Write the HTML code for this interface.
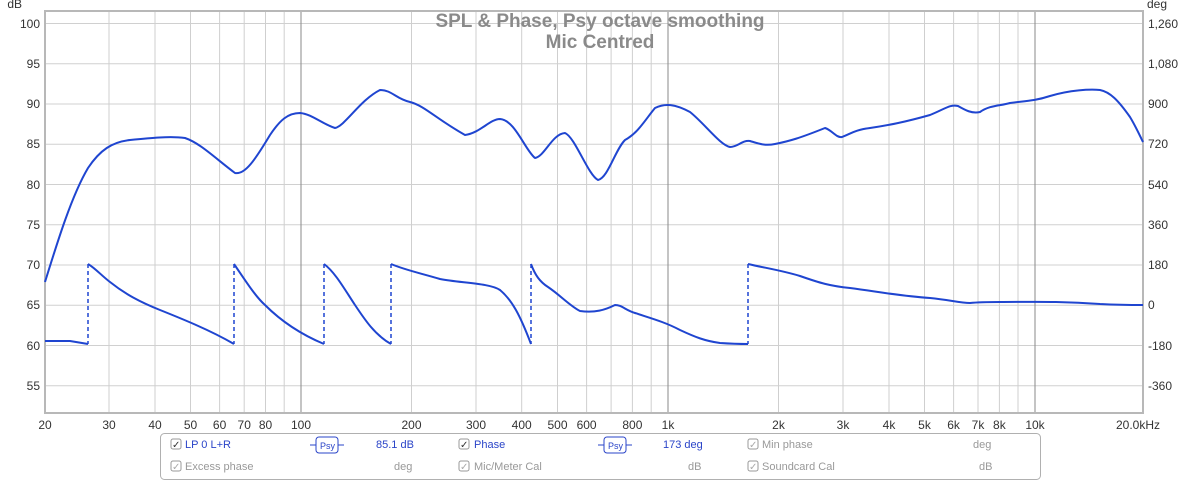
<!DOCTYPE html>
<html><head><style>
body{margin:0;background:#fff;width:1200px;height:481px;overflow:hidden;font-family:"Liberation Sans",sans-serif}
</style></head><body>
<svg width="1200" height="481" xmlns="http://www.w3.org/2000/svg" font-family="Liberation Sans, sans-serif">
<rect x="0" y="0" width="1200" height="481" fill="#fff"/>
<g stroke="#d0d0d0" stroke-width="1">
<line x1="45" x2="1143" y1="23.5" y2="23.5"/><line x1="45" x2="1143" y1="63.8" y2="63.8"/>
<line x1="45" x2="1143" y1="104" y2="104"/><line x1="45" x2="1143" y1="144.2" y2="144.2"/>
<line x1="45" x2="1143" y1="184.5" y2="184.5"/><line x1="45" x2="1143" y1="224.7" y2="224.7"/>
<line x1="45" x2="1143" y1="265" y2="265"/><line x1="45" x2="1143" y1="305.2" y2="305.2"/>
<line x1="45" x2="1143" y1="345.5" y2="345.5"/><line x1="45" x2="1143" y1="385.7" y2="385.7"/>
</g>
<g stroke="#cfcfcf" stroke-width="1">
<line x1="109" x2="109" y1="11" y2="413"/><line x1="155" x2="155" y1="11" y2="413"/><line x1="190.5" x2="190.5" y1="11" y2="413"/><line x1="219.6" x2="219.6" y1="11" y2="413"/><line x1="244.2" x2="244.2" y1="11" y2="413"/><line x1="265.5" x2="265.5" y1="11" y2="413"/><line x1="284.2" x2="284.2" y1="11" y2="413"/>
<line x1="411.5" x2="411.5" y1="11" y2="413"/><line x1="476" x2="476" y1="11" y2="413"/><line x1="521.7" x2="521.7" y1="11" y2="413"/><line x1="557.5" x2="557.5" y1="11" y2="413"/><line x1="586.6" x2="586.6" y1="11" y2="413"/><line x1="611.1" x2="611.1" y1="11" y2="413"/><line x1="632.4" x2="632.4" y1="11" y2="413"/><line x1="651.2" x2="651.2" y1="11" y2="413"/>
<line x1="778.5" x2="778.5" y1="11" y2="413"/><line x1="843" x2="843" y1="11" y2="413"/><line x1="889" x2="889" y1="11" y2="413"/><line x1="924.5" x2="924.5" y1="11" y2="413"/><line x1="953.6" x2="953.6" y1="11" y2="413"/><line x1="978" x2="978" y1="11" y2="413"/><line x1="999.4" x2="999.4" y1="11" y2="413"/><line x1="1018" x2="1018" y1="11" y2="413"/>
</g>
<g stroke="#8a8a8a" stroke-width="1">
<line x1="301" x2="301" y1="11" y2="413"/><line x1="668" x2="668" y1="11" y2="413"/><line x1="1035" x2="1035" y1="11" y2="413"/>
</g>
<rect x="45" y="11" width="1098" height="402" fill="none" stroke="#b8b8b8" stroke-width="2"/>
<text x="600" y="27" text-anchor="middle" font-size="19" font-weight="bold" fill="#8a8a8a">SPL &amp; Phase, Psy octave smoothing</text>
<text x="600" y="48" text-anchor="middle" font-size="19" font-weight="bold" fill="#8a8a8a">Mic Centred</text>
<g font-size="12" fill="#333" text-anchor="end">
<text x="22" y="8">dB</text>
<text x="40" y="28">100</text><text x="40" y="68">95</text><text x="40" y="108">90</text><text x="40" y="148">85</text><text x="40" y="189">80</text><text x="40" y="229">75</text><text x="40" y="269">70</text><text x="40" y="309">65</text><text x="40" y="350">60</text><text x="40" y="390">55</text>
</g>
<g font-size="12" fill="#333">
<text x="1147" y="8">deg</text>
<text x="1148" y="28">1,260</text><text x="1148" y="68">1,080</text><text x="1148" y="108">900</text><text x="1148" y="148">720</text><text x="1148" y="189">540</text><text x="1148" y="229">360</text><text x="1148" y="269">180</text><text x="1148" y="309">0</text><text x="1148" y="350">-180</text><text x="1148" y="390">-360</text>
</g>
<g font-size="12" fill="#333" text-anchor="middle">
<text x="45" y="429">20</text><text x="109" y="429">30</text><text x="155" y="429">40</text><text x="190.5" y="429">50</text><text x="219.6" y="429">60</text><text x="244.2" y="429">70</text><text x="265.5" y="429">80</text><text x="301" y="429">100</text><text x="411.5" y="429">200</text><text x="476" y="429">300</text><text x="521.7" y="429">400</text><text x="557.5" y="429">500</text><text x="586.6" y="429">600</text><text x="632.4" y="429">800</text><text x="668" y="429">1k</text><text x="778.5" y="429">2k</text><text x="843" y="429">3k</text><text x="889" y="429">4k</text><text x="924.5" y="429">5k</text><text x="953.6" y="429">6k</text><text x="978" y="429">7k</text><text x="999.4" y="429">8k</text><text x="1035" y="429">10k</text><text x="1138" y="429">20.0kHz</text>
</g>
<path fill="none" stroke="#1f45d0" stroke-width="2" stroke-linejoin="round" d="M45,282 C58,240 72,195 88,168 C100,150 112,142 130,140 C150,138 170,136 185,138 C200,143 215,158 235,173 C245,175 255,160 270,135 C280,120 288,113 300,113 C312,114 322,124 335,128 C345,126 360,100 380,90 C392,90 396,99 410,102 C425,106 435,118 465,135 C480,133 490,119 500,119 C515,120 525,150 535,158 C545,156 552,134 565,133 C575,137 588,175 598,180 C608,178 615,150 625,140 C638,133 645,120 655,108 C665,103 675,104 690,112 C705,124 720,145 730,147 C738,147 742,140 750,141 C760,144 765,146 775,144 C790,141 800,138 825,128 C832,130 836,138 842,137 C852,133 855,130 870,128 C890,125 905,122 930,115 C945,109 950,104 958,106 C965,110 972,114 980,112 C990,105 1000,106 1010,103 C1025,101 1035,101 1050,96 C1070,90 1090,89 1100,90 C1110,92 1118,100 1130,117 C1136,127 1140,136 1143,142"/>
<path fill="none" stroke="#1f45d0" stroke-width="2" stroke-linejoin="round" d="M45,341 L70,341 L88,344 M88,264 C95,268 102,276 110,282 C125,294 140,302 160,310 C180,318 210,330 234,344 M234,264 C245,280 255,296 265,305 C280,320 300,334 324,344 M324,264 C335,272 345,290 355,305 C365,320 375,335 391,344 M391,264 C405,270 420,273 440,279 C460,283 490,283 500,290 C512,300 520,315 531,344 M531,264 C535,275 540,282 548,287 C560,295 570,306 580,311 C595,313 605,310 615,305 C622,305 625,310 635,313 C650,318 665,322 680,330 C695,337 705,341 720,343 C735,344 740,344 748,344 M748,264 C765,268 780,270 800,276 C820,283 830,286 850,288 C880,292 900,296 930,298 C950,300 960,303 970,303 C980,302 990,302 1000,302 C1030,302 1060,301 1100,304 C1120,305 1135,305 1143,305"/>
<g stroke="#1f45d0" stroke-width="1.5" stroke-dasharray="4,3">
<line x1="88" x2="88" y1="264" y2="344"/><line x1="234" x2="234" y1="264" y2="344"/><line x1="324" x2="324" y1="264" y2="344"/><line x1="391" x2="391" y1="264" y2="344"/><line x1="531" x2="531" y1="264" y2="344"/><line x1="748" x2="748" y1="264" y2="344"/>
</g>
<rect x="160.5" y="433.5" width="880" height="46" rx="4" fill="#fff" stroke="#b0b0b0"/>
<g font-size="11">
<g fill="none" stroke="#999"><rect x="171" y="439" width="10" height="10" rx="2"/><rect x="459" y="439" width="10" height="10" rx="2"/><rect x="748" y="439" width="10" height="10" rx="2"/><rect x="171" y="461" width="10" height="10" rx="2"/><rect x="459" y="461" width="10" height="10" rx="2"/><rect x="748" y="461" width="10" height="10" rx="2"/></g>
<g fill="#333" font-size="10"><text x="172" y="448">✓</text><text x="460" y="448">✓</text></g>
<g fill="#aaa" font-size="10"><text x="749" y="448">✓</text><text x="172" y="470">✓</text><text x="460" y="470">✓</text><text x="749" y="470">✓</text></g>
<g fill="#2a44c8"><text x="185" y="448">LP 0 L+R</text><text x="376" y="448">85.1 dB</text><text x="474" y="448">Phase</text><text x="663" y="448">173 deg</text></g>
<g fill="#999"><text x="762" y="448">Min phase</text><text x="973" y="448">deg</text><text x="185" y="470">Excess phase</text><text x="394" y="470">deg</text><text x="474" y="470">Mic/Meter Cal</text><text x="688" y="470">dB</text><text x="762" y="470">Soundcard Cal</text><text x="979" y="470">dB</text></g>
<g stroke="#2a44c8" fill="#fff"><line x1="310" x2="344" y1="445" y2="445"/><rect x="316" y="437" width="22" height="16" rx="3"/><line x1="598" x2="632" y1="445" y2="445"/><rect x="604" y="437" width="22" height="16" rx="3"/></g>
<g fill="#2a44c8" font-size="9"><text x="320" y="449">Psy</text><text x="608" y="449">Psy</text></g>
</g>
</svg>
</body></html>
